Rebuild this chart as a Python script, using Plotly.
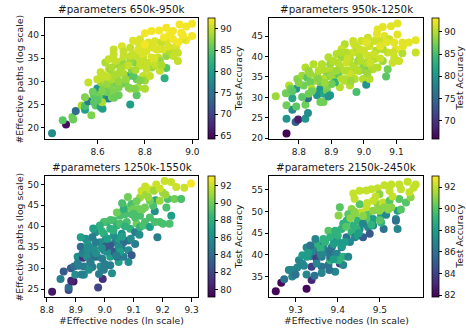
import plotly.graph_objects as go

# ---------------- data ----------------
titles = ["#parameters 650k-950k", "#parameters 950k-1250k",
          "#parameters 1250k-1550k", "#parameters 2150k-2450k"]

x1 = [8.408, 8.467, 8.453, 8.494, 8.497, 8.508, 8.533, 8.547, 8.547, 8.561, 8.547, 8.574, 8.561, 8.585, 8.599,
      8.592, 8.585, 8.613, 8.621, 8.633, 8.647, 8.626, 8.615, 8.633, 8.599, 8.606, 8.640, 8.668, 8.675, 8.689,
      8.703, 8.661, 8.613, 8.626, 8.647, 8.633, 8.647, 8.668, 8.668, 8.682, 8.696, 8.703, 8.710, 8.724, 8.731,
      8.738, 8.738, 8.717, 8.745, 8.758, 8.751, 8.738, 8.703, 8.772, 8.772, 8.772, 8.765, 8.772, 8.765, 8.758,
      8.793, 8.800, 8.800, 8.821, 8.828, 8.800, 8.793, 8.807, 8.814, 8.800, 8.828, 8.860, 8.842, 8.849, 8.856,
      8.849, 8.863, 8.890, 8.890, 8.883, 8.890, 8.890, 8.918, 8.918, 8.904, 8.932, 8.939, 8.939, 8.946, 8.974,
      8.999, 8.974, 8.999, 8.953, 8.960, 8.918, 8.897, 8.869, 8.863, 8.828, 8.835, 8.779, 8.710, 8.682, 8.654,
      8.710, 8.779, 8.807, 8.842, 8.876, 8.904, 8.751, 8.786, 8.779, 8.738, 8.731, 8.689, 8.661, 8.619, 8.654,
      8.675,
      8.62, 8.64, 8.66, 8.68, 8.69, 8.70, 8.72, 8.73, 8.74, 8.76, 8.78, 8.79, 8.81, 8.82, 8.84,
      8.86, 8.88, 8.87, 8.90, 8.92, 8.94, 8.96, 8.66, 8.64, 8.71, 8.75, 8.80, 8.58, 8.60, 8.67]
y1 = [18.8, 20.7, 21.6, 22.3, 21.8, 23.6, 24.8, 23.9, 24.7, 25.7, 26.6, 22.7, 29.8, 27.0, 28.5,
      24.8, 25.5, 24.5, 24.1, 26.3, 26.3, 28.7, 29.8, 30.2, 30.5, 27.0, 27.7, 27.7, 29.5, 28.7,
      29.5, 31.3, 32.0, 31.3, 32.7, 34.1, 34.8, 35.9, 36.9, 33.7, 32.3, 34.4, 35.5, 33.4, 31.2,
      28.4, 25.0, 29.8, 32.3, 34.1, 35.9, 37.3, 37.6, 38.4, 36.9, 35.2, 30.5, 28.7, 27.0, 28.4,
      31.2, 28.4, 30.2, 31.2, 33.0, 34.1, 35.5, 36.6, 38.4, 40.4, 40.9, 41.0, 38.7, 36.9, 35.2,
      33.4, 34.4, 35.5, 32.9, 30.7, 38.7, 41.6, 40.9, 39.2, 37.3, 37.6, 36.2, 34.4, 42.3, 41.9,
      42.5, 38.9, 39.8, 40.5, 39.1, 36.2, 36.6, 38.4, 32.3, 35.2, 37.3, 33.4, 31.6, 30.5, 29.1,
      33.7, 30.2, 32.7, 33.7, 36.9, 40.1, 31.2, 37.3, 39.1, 34.4, 28.7, 27.0, 26.6, 25.5, 32.7,
      34.4,
      28.0, 29.5, 30.5, 31.5, 30.0, 32.8, 30.5, 33.5, 35.5, 32.5, 34.5, 36.0, 34.0, 37.5, 35.0,
      37.0, 39.5, 33.5, 37.5, 35.5, 38.5, 40.0, 33.0, 31.0, 36.5, 38.8, 38.0, 27.8, 26.0, 26.5]
c1 = [78, 65, 85, 86, 86, 74, 89, 80, 84, 76, 87, 87, 90, 85, 79,
      85, 85, 81, 80, 80, 77, 87, 88, 90, 90, 86, 86, 87, 86, 87,
      87, 89, 90, 90, 91, 89, 90, 90, 90, 88, 88, 90, 90, 90, 81,
      89, 80, 86, 87, 87, 90, 90, 91, 91, 91, 90, 86, 89, 85, 87,
      90, 89, 88, 90, 88, 88, 90, 91, 91, 92, 92, 92, 91, 91, 90,
      89, 88, 88, 85, 82, 91, 92, 92, 92, 90, 91, 90, 90, 92, 92,
      92, 92, 92, 92, 91, 90, 89, 90, 90, 91, 91, 90, 89, 87, 87,
      88, 87, 90, 90, 91, 92, 85, 91, 91, 88, 87, 86, 87, 89, 88,
      90,
      87, 88, 89, 89, 88, 89, 88, 90, 90, 89, 90, 91, 90, 91, 91,
      91, 92, 89, 91, 90, 92, 92, 89, 90, 90, 91, 92, 86, 85, 86]

x2 = [8.762, 8.790, 8.798, 8.762, 8.820, 8.828, 8.780, 8.792, 8.762, 8.820, 8.729, 8.780, 8.828, 8.760, 8.792,
      8.810, 8.795, 8.810, 8.770, 8.775, 8.815, 8.826, 8.820, 8.835, 8.845, 8.851, 8.856, 8.866, 8.866, 8.876,
      8.876, 8.886, 8.896, 8.891, 8.886, 8.866, 8.851, 8.881, 8.871, 8.891, 8.896, 8.901, 8.906, 8.926, 8.911,
      8.921, 8.926, 8.916, 8.931, 8.941, 8.931, 8.946, 8.951, 8.946, 8.941, 8.962, 8.967, 8.967, 8.967, 8.977,
      8.992, 8.987, 8.982, 8.972, 8.977, 8.997, 9.007, 9.007, 9.017, 9.022, 9.012, 9.017, 9.012, 9.032, 9.037,
      9.032, 9.042, 9.042, 9.058, 9.083, 9.103, 9.063, 9.078, 9.103, 9.093, 9.118, 9.138, 9.159, 9.159, 9.118,
      9.108, 9.088, 9.073, 9.058, 9.058, 9.073, 9.068, 9.093, 9.098, 9.048, 9.027, 8.997, 8.987, 8.957, 8.931,
      8.916, 8.901, 8.886, 8.856, 8.835, 8.840, 8.830, 9.007, 8.987, 8.946, 8.957, 9.007, 8.972, 8.876, 8.906,
      8.861,
      8.84, 8.86, 8.88, 8.90, 8.92, 8.94, 8.95, 8.96, 8.98, 8.99, 9.00, 9.02, 9.03, 9.05, 9.05,
      9.07, 9.09, 9.12, 8.83, 8.80, 8.78, 8.87, 8.93, 8.97, 9.01, 9.04]
y2 = [21.2, 24.0, 24.6, 24.8, 24.8, 26.2, 27.0, 27.8, 28.1, 28.2, 30.3, 29.8, 29.8, 31.0, 32.1,
      30.1, 34.5, 35.3, 32.9, 32.1, 32.9, 34.8, 37.3, 35.7, 38.1, 31.3, 30.5, 32.1, 28.9, 28.9,
      30.9, 31.7, 30.5, 30.2, 32.7, 33.7, 34.1, 36.5, 38.1, 39.8, 38.1, 36.5, 34.9, 32.5, 33.7,
      35.7, 37.7, 40.6, 39.8, 43.0, 41.8, 38.5, 36.5, 34.5, 34.1, 35.7, 37.7, 41.0, 43.8, 42.2,
      43.8, 40.2, 38.9, 34.5, 31.3, 34.5, 36.5, 33.1, 34.5, 37.7, 40.2, 42.6, 44.6, 43.8, 41.4,
      39.4, 37.3, 46.6, 47.2, 47.4, 48.1, 45.0, 44.2, 45.4, 43.4, 43.4, 43.4, 44.0, 41.0, 40.8,
      38.9, 38.5, 41.0, 41.8, 38.9, 36.9, 35.1, 39.8, 41.8, 43.8, 36.9, 37.3, 36.5, 32.9, 34.5,
      36.5, 33.3, 35.1, 35.2, 33.7, 32.1, 30.9, 43.4, 41.8, 41.0, 39.4, 38.5, 37.3, 34.5, 38.9,
      36.5,
      31.5, 34.5, 33.5, 35.5, 38.5, 36.5, 39.5, 34.0, 36.5, 39.0, 41.5, 38.5, 40.5, 39.5, 42.5,
      43.5, 41.0, 42.5, 36.5, 33.5, 31.5, 37.5, 41.0, 43.0, 36.0, 45.5]
c2 = [66, 74, 68, 80, 80, 79, 79, 86, 87, 87, 89, 82, 76, 87, 80,
      86, 88, 89, 90, 87, 87, 86, 90, 89, 90, 87, 80, 80, 87, 87,
      82, 87, 81, 80, 88, 87, 89, 90, 90, 90, 89, 90, 90, 90, 83,
      86, 90, 90, 89, 90, 91, 91, 90, 90, 90, 91, 90, 91, 91, 90,
      91, 90, 89, 90, 85, 90, 85, 80, 90, 90, 91, 91, 91, 91, 90,
      90, 90, 92, 92, 92, 92, 92, 91, 92, 92, 92, 92, 92, 91, 90,
      91, 91, 91, 90, 89, 87, 86, 91, 92, 91, 90, 88, 89, 90, 90,
      89, 87, 88, 89, 87, 90, 87, 92, 91, 90, 90, 90, 90, 90, 90,
      90,
      87, 88, 89, 89, 90, 90, 91, 89, 90, 90, 91, 91, 91, 91, 92,
      92, 91, 92, 89, 88, 86, 90, 90, 91, 89, 92]

x3 = [8.818, 8.875, 8.875, 8.977, 8.892, 8.884, 8.993, 8.847, 8.858, 8.883, 8.898, 8.894, 8.911, 8.906, 8.925,
      8.928, 8.928, 8.917, 8.951, 8.945, 8.963, 8.974, 8.980, 8.985, 9.002, 8.991, 8.968, 8.940, 8.957, 8.985,
      8.997, 8.997, 9.014, 9.019, 9.025, 9.019, 9.048, 9.031, 9.036, 9.048, 9.019, 9.008, 9.031, 9.053, 9.042,
      9.059, 9.059, 9.065, 9.082, 9.082, 9.093, 9.082, 9.088, 9.076, 9.093, 9.076, 9.093, 9.105, 9.110, 9.122,
      9.116, 9.122, 9.127, 9.144, 9.156, 9.178, 9.207, 9.229, 9.247, 9.275, 9.298, 9.201, 9.218, 9.241, 9.264,
      9.230, 9.201, 9.224, 9.190, 9.182, 9.173, 9.176, 9.167, 9.156, 9.139, 9.139, 9.156, 9.190, 9.213, 9.122,
      9.053, 8.997, 8.983, 8.968, 9.002, 9.031, 9.048, 9.065, 9.105, 9.105, 9.070, 9.042, 9.065, 9.099, 8.945,
      8.934, 8.917, 8.963, 8.957, 8.997, 8.945, 8.906, 8.923, 8.938, 9.042, 9.053, 9.008, 9.019, 9.002, 9.133,
      9.156, 9.173,
      8.95, 8.97, 8.99, 9.01, 9.03, 9.04, 9.06, 9.07, 9.09, 9.10, 9.11, 9.13, 9.15, 9.17, 9.19,
      9.21, 8.92, 8.94, 8.99, 9.02, 9.06, 9.08, 9.12, 9.00, 8.96, 9.14]
y3 = [24.4, 24.8, 25.4, 25.4, 26.8, 27.0, 27.4, 27.4, 29.2, 30.0, 28.4, 30.4, 30.6, 32.7, 32.5,
      30.4, 28.4, 35.1, 31.3, 33.5, 34.7, 32.7, 28.6, 30.4, 30.7, 32.3, 38.6, 36.0, 37.4, 36.2,
      38.2, 34.3, 35.5, 32.7, 28.8, 30.7, 31.5, 34.0, 36.2, 37.0, 39.4, 41.0, 41.4, 42.5, 40.2,
      38.2, 34.7, 36.2, 36.6, 34.3, 33.1, 31.5, 39.4, 41.0, 42.9, 44.5, 45.3, 38.6, 40.6, 42.5,
      44.1, 46.9, 48.4, 47.6, 48.8, 50.0, 50.8, 50.6, 49.4, 49.2, 50.2, 48.0, 46.5, 46.5, 46.5,
      42.5, 40.6, 40.6, 41.0, 37.4, 43.6, 46.2, 44.9, 42.1, 41.0, 44.5, 46.1, 46.1, 44.5, 39.8,
      40.6, 41.0, 40.2, 36.2, 36.6, 37.8, 35.1, 32.7, 35.8, 42.1, 42.9, 43.3, 44.1, 44.1, 35.1,
      37.0, 37.4, 32.7, 30.3, 29.6, 29.6, 31.1, 33.5, 32.7, 32.7, 33.9, 33.9, 35.5, 35.1, 40.2,
      39.8, 41.0,
      31.5, 33.5, 34.8, 37.0, 39.0, 33.0, 37.5, 40.0, 37.0, 43.0, 46.0, 44.0, 47.0, 48.5, 49.0,
      47.5, 28.5, 34.5, 38.8, 41.5, 45.5, 47.0, 38.0, 31.0, 39.5, 49.5]
c3 = [80, 82, 84, 82, 80, 80.5, 81, 85, 83, 83, 86, 84, 85, 86, 81,
      85, 86, 84, 87, 85, 86, 85, 85, 86, 82, 85, 86, 87, 85, 86,
      88, 86, 85, 87, 86, 85, 87, 83, 85, 87, 88, 88, 89, 89, 88,
      86, 85, 84, 84, 86, 83, 86, 88, 89, 89, 90, 89, 85, 90, 89,
      90, 91, 92, 91, 92, 92, 92, 92, 92, 92, 93, 91, 89, 90, 89,
      87, 89, 89, 89, 85, 86, 87, 89, 89, 89, 90, 90, 91, 89, 88,
      89, 89, 88, 85, 86, 86, 86, 85, 85, 89, 89, 90, 88, 90, 86,
      86, 87, 84, 85, 85, 86, 85, 85, 86, 84, 87, 86, 83, 83, 89,
      87, 89,
      85, 86, 86, 87, 88, 85, 87, 88, 86, 89, 90, 90, 91, 91, 92,
      91, 85, 86, 88, 89, 89, 90, 86, 85, 87, 92]

x4 = [9.253, 9.266, 9.273, 9.292, 9.288, 9.284, 9.296, 9.304, 9.326, 9.338, 9.326, 9.338, 9.345, 9.308, 9.316,
      9.326, 9.335, 9.349, 9.347, 9.351, 9.362, 9.362, 9.362, 9.378, 9.366, 9.374, 9.382, 9.366, 9.378, 9.390,
      9.386, 9.398, 9.405, 9.394, 9.413, 9.409, 9.402, 9.394, 9.409, 9.421, 9.429, 9.433, 9.437, 9.441, 9.448,
      9.452, 9.460, 9.472, 9.472, 9.484, 9.503, 9.515, 9.538, 9.542, 9.546, 9.562, 9.573, 9.566, 9.585, 9.546,
      9.527, 9.511, 9.495, 9.480, 9.468, 9.452, 9.437, 9.523, 9.550, 9.499, 9.495, 9.507, 9.511, 9.523, 9.527,
      9.484, 9.468, 9.452, 9.456, 9.441, 9.433, 9.425, 9.405, 9.402, 9.421, 9.452, 9.468, 9.484, 9.499, 9.538,
      9.542, 9.509, 9.503, 9.484, 9.476, 9.413, 9.425, 9.382, 9.382, 9.327, 9.316, 9.339, 9.359, 9.402, 9.417,
      9.445, 9.448, 9.460, 9.413, 9.382, 9.347, 9.335,
      9.30, 9.32, 9.33, 9.35, 9.36, 9.37, 9.38, 9.39, 9.40, 9.41, 9.42, 9.43, 9.44, 9.45, 9.46,
      9.47, 9.49, 9.50, 9.52, 9.53, 9.55, 9.57, 9.58, 9.44, 9.48, 9.39]
y4 = [31.6, 33.6, 34.4, 35.0, 36.5, 36.5, 36.5, 37.1, 32.2, 34.2, 35.5, 37.3, 35.2, 38.8, 39.9,
      41.7, 39.7, 39.3, 41.1, 42.6, 39.6, 37.3, 35.8, 37.7, 42.2, 40.7, 41.1, 43.7, 45.6, 44.1,
      41.8, 40.3, 38.0, 36.1, 39.6, 41.8, 43.0, 45.6, 46.0, 44.1, 43.0, 45.3, 46.8, 44.1, 44.5,
      46.0, 44.1, 46.4, 49.4, 48.3, 49.1, 49.3, 48.3, 50.2, 52.9, 52.1, 53.3, 56.9, 56.3, 56.3,
      56.3, 56.1, 55.4, 55.2, 54.9, 54.8, 54.2, 54.8, 55.2, 54.0, 51.7, 52.1, 51.0, 52.5, 51.0,
      52.5, 51.0, 51.7, 49.8, 49.4, 50.6, 49.4, 51.0, 49.1, 47.9, 47.9, 48.3, 50.2, 50.2, 47.9,
      46.0, 46.0, 47.5, 46.8, 44.9, 37.7, 39.6, 38.8, 39.6, 39.6, 38.0, 41.1, 41.5, 38.8, 43.0,
      46.0, 47.9, 47.2, 47.2, 44.1, 43.7, 42.2,
      35.5, 37.5, 40.5, 38.0, 40.0, 43.0, 36.5, 42.5, 44.5, 42.0, 46.5, 48.5, 50.0, 45.0, 49.0,
      52.0, 53.5, 48.0, 50.5, 53.5, 50.5, 54.5, 55.5, 53.0, 47.0, 39.0]
c4 = [82, 82, 86, 87, 86, 87, 87, 87, 82, 83, 87, 84, 86, 87, 88,
      87, 87, 84, 86, 89, 86, 86, 87, 86, 87, 87, 86, 89, 90, 87,
      86, 87, 84, 87, 89, 86, 88, 89, 89, 86, 87, 89, 89, 87, 88,
      87, 85, 87, 90, 88, 88, 87, 87, 88, 90, 90, 91, 92, 92, 92,
      92, 92, 92, 92, 92, 92, 92, 92, 92, 91, 91, 92, 91, 90, 91,
      92, 92, 90, 92, 91, 91, 90, 90, 91, 89, 87, 90, 91, 91, 86,
      87, 86, 89, 87, 85, 87, 87, 89, 86, 88, 87, 87, 89, 89, 88,
      89, 89, 87, 89, 89, 87, 86,
      86, 87, 88, 87, 87, 89, 86, 88, 89, 88, 90, 91, 91, 88, 91,
      92, 92, 90, 91, 92, 90, 92, 92, 92, 89, 88]

xs = [x1, x2, x3, x4]
ys = [y1, y2, y3, y4]
cs = [c1, c2, c3, c4]
cranges = [(64.1, 92.5), (65.8, 93.1), (79.1, 93.1), (81.8, 93.0)]
ctick_vals = [[65, 70, 75, 80, 85, 90], [70, 75, 80, 85, 90],
              [80, 82, 84, 86, 88, 90, 92], [82, 84, 86, 88, 90, 92]]
xranges = [(8.379, 9.026), (8.709, 9.181), (8.794, 9.324), (9.2375, 9.602)]
yranges = [(17.5, 43.7), (19.76, 49.4), (23.03, 51.97), (30.2, 58.2)]
xtick_vals = [[8.6, 8.8, 9.0], [8.8, 8.9, 9.0, 9.1],
              [8.8, 8.9, 9.0, 9.1, 9.2, 9.3], [9.3, 9.4, 9.5]]
ytick_vals = [[20, 25, 30, 35, 40], [20, 25, 30, 35, 40, 45],
              [25, 30, 35, 40, 45, 50], [35, 40, 45, 50, 55]]
xlabel = "#Effective nodes (ln scale)"
ylabel = "#Effective paths (log scale)"
cbar_label = "Test Accuracy"

# ---------------- layout geometry (pixels) ----------------
W, H = 466, 331
FONT = "DejaVu Sans"
TXT = "#1a1a1a"
left_cols = [(40.7, 196.0), (267.7, 423.3)]
rows = [(18.3, 141.0), (178.3, 301.0)]
cbar_x = [205.7, 432.7]
cbar_title_x = [236.5, 461.0]

fig = go.Figure()
layout = dict(width=W, height=H, margin=dict(l=0, r=0, t=0, b=0),
              paper_bgcolor="white", plot_bgcolor="white", showlegend=False,
              font=dict(family=FONT, size=9, color=TXT))
annotations = []

for i in range(4):
    r, c = divmod(i, 2)
    x0p, x1p = left_cols[c]
    top, bot = rows[r]
    dx = [x0p / W, x1p / W]
    dy = [1 - bot / H, 1 - top / H]
    sfx = "" if i == 0 else str(i + 1)
    fig.add_trace(go.Scatter(
        x=xs[i], y=ys[i], mode="markers",
        xaxis="x" + sfx, yaxis="y" + sfx,
        marker=dict(size=8, color=cs[i], coloraxis="coloraxis" + sfx, line=dict(width=0)),
        hoverinfo="skip"))
    axcommon = dict(showline=True, linecolor="black", linewidth=1, mirror=True,
                    ticks="outside", ticklen=3.5, tickwidth=0.8, tickcolor="black",
                    showgrid=False, zeroline=False,
                    tickfont=dict(family=FONT, size=9, color=TXT))
    layout["xaxis" + sfx] = dict(domain=dx, range=list(xranges[i]), tickvals=xtick_vals[i],
                                 tickformat=".1f", anchor="y" + sfx, **axcommon)
    layout["yaxis" + sfx] = dict(domain=dy, range=list(yranges[i]), tickvals=ytick_vals[i],
                                 anchor="x" + sfx, **axcommon)
    cmin, cmax = cranges[i]
    layout["coloraxis" + sfx] = dict(
        colorscale="Viridis", cmin=cmin, cmax=cmax,
        colorbar=dict(x=cbar_x[c] / W, xanchor="left", xpad=0, ypad=0,
                      y=(dy[0] + dy[1]) / 2, yanchor="middle", len=dy[1] - dy[0], lenmode="fraction",
                      thickness=7, thicknessmode="pixels", outlinewidth=0.8, outlinecolor="black",
                      tickvals=ctick_vals[i], ticks="outside", ticklen=3.5, tickcolor="black",
                      tickfont=dict(family=FONT, size=9, color=TXT)))
    # colorbar label
    annotations.append(dict(text=cbar_label, xref="paper", yref="paper", textangle=-90,
                            x=cbar_title_x[c] / W, y=(dy[0] + dy[1]) / 2, xanchor="center", yanchor="middle",
                            showarrow=False, font=dict(family=FONT, size=9.3, color=TXT)))
    # panel title
    annotations.append(dict(text=titles[i], xref="paper", yref="paper",
                            x=(dx[0] + dx[1]) / 2, y=1 - (top - 9.5) / H, xanchor="center", yanchor="middle",
                            showarrow=False, font=dict(family=FONT, size=10.3, color=TXT)))
    if c == 0:
        annotations.append(dict(text=ylabel, xref="paper", yref="paper", textangle=-90,
                                x=15 / W, y=(dy[0] + dy[1]) / 2, xanchor="center", yanchor="middle",
                                showarrow=False, font=dict(family=FONT, size=9.3, color=TXT)))
    if r == 1:
        annotations.append(dict(text=xlabel, xref="paper", yref="paper",
                                x=(dx[0] + dx[1]) / 2, y=1 - 324.0 / H, xanchor="center", yanchor="middle",
                                showarrow=False, font=dict(family=FONT, size=9.3, color=TXT)))

layout["annotations"] = annotations
fig.update_layout(**layout)
fig.write_html("out.html", config={"displayModeBar": False},
               post_script="document.body.style.margin='0';document.body.style.overflow='hidden';")
